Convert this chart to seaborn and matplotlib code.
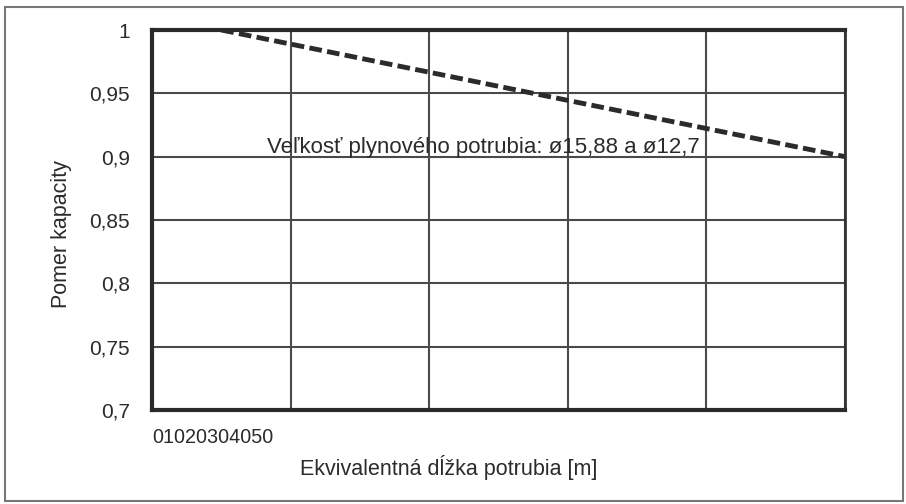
import matplotlib
matplotlib.use("Agg")
import matplotlib.pyplot as plt
import seaborn as sns
import pandas as pd
from matplotlib.patches import Rectangle

# data
length_m = [5, 50]
capacity_ratio = [1.0, 0.9]
x_ticks = [0, 10, 20, 30, 40, 50]
x_tick_labels = ["0", "10", "20", "30", "40", "50"]
y_ticks = [0.7, 0.75, 0.8, 0.85, 0.9, 0.95, 1.0]
y_tick_labels = ["0,7", "0,75", "0,8", "0,85", "0,9", "0,95", "1"]

sns.set_style("white")
plt.rcParams['font.family'] = ['Liberation Sans', 'DejaVu Sans']

W, H = 906, 504
fig = plt.figure(figsize=(W / 100, H / 100), dpi=100)
ax = fig.add_axes([152 / W, (H - 410) / H, (845 - 152) / W, 380 / H])

df = pd.DataFrame({"length": length_m, "ratio": capacity_ratio})
sns.lineplot(data=df, x="length", y="ratio", ax=ax, color="#2b2b2b",
             linewidth=3.5, linestyle=(0, (2.6, 1.1)))

ax.set_xlim(0, 50)
ax.set_ylim(0.7, 1.0)
ax.set_xticks(x_ticks)
ax.set_xticklabels([])
ax.set_yticks(y_ticks)
ax.set_yticklabels(y_tick_labels)
ax.tick_params(axis="both", length=0, labelsize=15, colors="#2b2b2b")
ax.tick_params(axis="y", pad=16)
ax.grid(True, color="#4a4a4a", linewidth=1.5)
ax.set_xlabel("")
ax.set_ylabel("")

for side in ["top", "bottom", "left"]:
    ax.spines[side].set_linewidth(3)
    ax.spines[side].set_color("#2b2b2b")
ax.spines["right"].set_linewidth(2)
ax.spines["right"].set_color("#333333")

# crammed x tick labels as in the original
ax.text(0, -0.072, "".join(x_tick_labels), transform=ax.transAxes,
        ha="left", va="center", fontsize=14.2, color="#2b2b2b")

ax.text(8.3, 0.907, "Veľkosť plynového potrubia: ø15,88 a ø12,7",
        ha="left", va="center", fontsize=16, color="#2b2b2b")

fig.text(449 / W, 1 - 467 / H, "Ekvivalentná dĺžka potrubia [m]",
         ha="center", va="center", fontsize=15.5, color="#2b2b2b")
fig.text(62 / W, 1 - 234 / H, "Pomer kapacity", rotation=90,
         ha="center", va="center", fontsize=15.5, color="#2b2b2b")

fig.patches.append(Rectangle((5 / W, 3 / H), 898 / W, 494 / H,
                             transform=fig.transFigure, fill=False,
                             edgecolor="#777777", linewidth=1.5))

fig.savefig("out.png", dpi=100)
